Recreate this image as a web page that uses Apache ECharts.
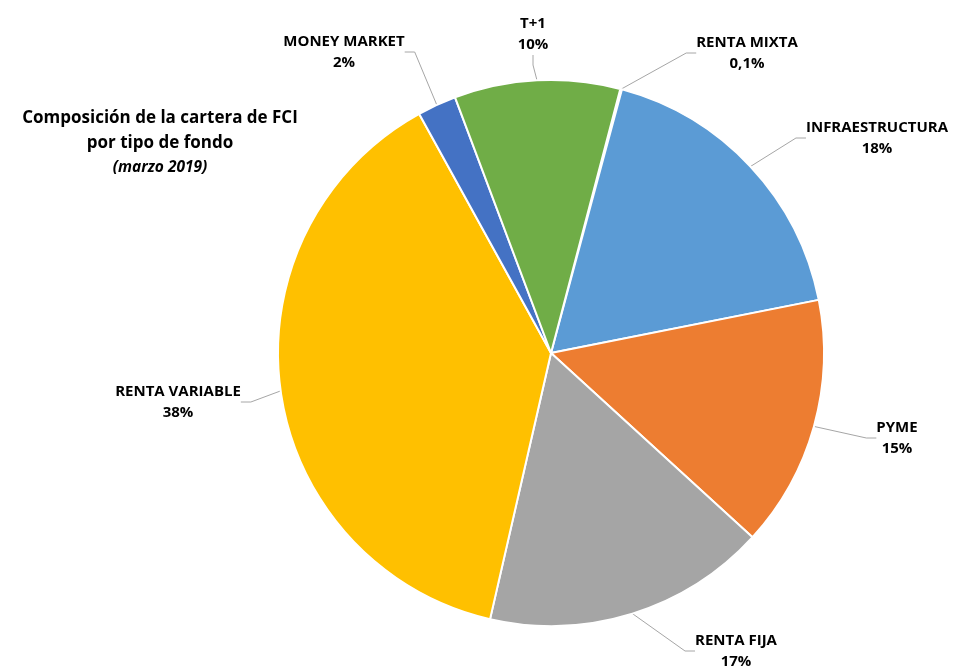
<!DOCTYPE html>
<html>
<head>
<meta charset="utf-8">
<script src="https://cdn.jsdelivr.net/npm/echarts@6/dist/echarts.min.js"></script>
<style>
  html, body { margin: 0; padding: 0; background: #fff; }
  #chart { width: 954px; height: 666px; }
</style>
</head>
<body>
<div id="chart"></div>
<script>
// datos de la cartera (orden horario, empezando por renta mixta)
var fondos = ['RENTA MIXTA', 'INFRAESTRUCTURA', 'PYME', 'RENTA FIJA', 'RENTA VARIABLE', 'MONEY MARKET', 'T+1'];
var porcentajes = [0.1, 17.7, 14.9, 16.8, 38.4, 2.3, 9.8];
var colores = ['#264478', '#5B9BD5', '#ED7D31', '#A5A5A5', '#FFC000', '#4472C4', '#70AD47'];

// posición de las etiquetas (centro del bloque de texto)
var posEtiquetas = [
	[747, 53], [877, 138], [897, 438], [736, 651], [178, 402], [344, 52], [533, 34]
];

var chart = echarts.init(document.getElementById('chart'));

var datos = fondos.map(function (n, i) {
	return { name: n, value: porcentajes[i], itemStyle: { color: colores[i] } };
});

function fmtPct(v) {
	if (v < 1) return String(v).replace('.', ',') + '%';
	return Math.round(v) + '%';
}

var fuente = '"Open Sans", "Liberation Sans", sans-serif';

var option = {
	backgroundColor: '#ffffff',
	animation: false,
	title: {
		text: 'Composición de la cartera de FCI\npor tipo de fondo',
		subtext: '(marzo 2019)',
		left: 155,
		top: 101,
		textAlign: 'center',
		itemGap: 0,
		textStyle: {
			fontFamily: fuente, fontSize: 17, fontWeight: 'bold', color: '#000', lineHeight: 25
		},
		subtextStyle: {
			fontFamily: fuente, fontSize: 15.5, fontWeight: 'bold', fontStyle: 'italic', color: '#000', lineHeight: 24
		}
	},
	series: [{
		type: 'pie',
		center: [551, 353],
		radius: [0, 273],
		startAngle: 75.3,
		clockwise: true,
		data: datos,
		itemStyle: { borderColor: '#fff', borderWidth: 2 },
		label: {
			show: true,
			position: 'outside',
			formatter: function (p) { return p.name + '\n' + fmtPct(p.value); },
			fontFamily: fuente,
			fontSize: 15,
			fontWeight: 'bold',
			color: '#000',
			lineHeight: 21,
			align: 'center'
		},
		labelLine: {
			show: true,
			length: 15,
			length2: 10,
			lineStyle: { color: '#A6A6A6', width: 1 }
		},
		labelLayout: function (params) {
			var p = posEtiquetas[params.dataIndex];
			return { x: p[0], y: p[1], align: 'center', verticalAlign: 'middle' };
		},
		emphasis: { disabled: true }
	}]
};

chart.setOption(option);
</script>
</body>
</html>
